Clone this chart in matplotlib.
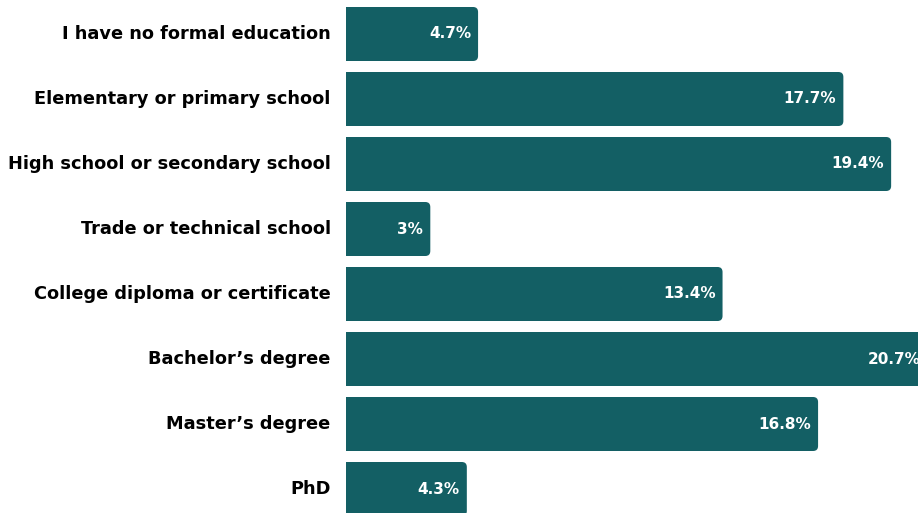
import matplotlib
matplotlib.use("Agg")
import matplotlib.pyplot as plt
from matplotlib.patches import FancyBboxPatch

categories = [
    "I have no formal education",
    "Elementary or primary school",
    "High school or secondary school",
    "Trade or technical school",
    "College diploma or certificate",
    "Bachelor\u2019s degree",
    "Master\u2019s degree",
    "PhD",
]
values = [4.7, 17.7, 19.4, 3, 13.4, 20.7, 16.8, 4.3]
labels = ["4.7%", "17.7%", "19.4%", "3%", "13.4%", "20.7%", "16.8%", "4.3%"]

W, H, DPI = 918, 513, 100
color = "#135f64"
font = "DejaVu Sans"

fig = plt.figure(figsize=(W / DPI, H / DPI), dpi=DPI)
ax = fig.add_axes([346 / W, 0, 1 - 346 / W, 1])
px_x = 28.1
xmax = (W - 346) / px_x
ax.set_xlim(0, xmax)
pitch = 65
ax.set_ylim((H - 34) / pitch, -34 / pitch)

bh = 54 / pitch
r = 5 / px_x
aspect = px_x / pitch
for i, (v, lab) in enumerate(zip(values, labels)):
    p = FancyBboxPatch((-1, i - bh / 2), v + 1, bh,
                       boxstyle=f"round,pad=0,rounding_size={r}",
                       mutation_aspect=aspect, fc=color, ec="none", clip_on=True)
    ax.add_patch(p)
    ax.annotate(lab, (v, i), xytext=(-5, 0), textcoords="offset points",
                ha="right", va="center", color="white", fontsize=11,
                fontweight="bold", family=font, annotation_clip=False)

ax.set_yticks(range(len(categories)))
ax.set_yticklabels(categories, fontsize=12.8, fontweight="bold", family=font,
                   va="center")
ax.tick_params(axis="y", length=0, pad=11)
ax.set_xticks([])
for s in ax.spines.values():
    s.set_visible(False)

fig.savefig("out.png", dpi=DPI, facecolor="white")
